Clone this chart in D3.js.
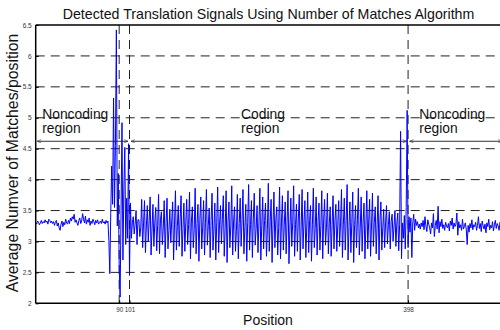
<!DOCTYPE html>
<html>
<head>
<meta charset="utf-8">
<script src="https://cdn.jsdelivr.net/npm/d3@7"></script>
<style>
  body { margin: 0; background: #fff; }
  svg { display: block; font-family: Arial, "Liberation Sans", sans-serif; }
</style>
</head>
<body>
<script>
const w = 500
const h = 330

// values, one per position
const noncodingLeft = [
  3.30,3.28,3.33,3.31,3.27,3.30,3.34,3.29,3.32,3.30,
  3.35,3.31,3.33,3.28,3.36,3.34,3.30,3.33,3.29,3.32,
  3.26,3.31,3.34,3.25,3.30,3.22,3.18,3.28,3.33,3.24,
  3.31,3.27,3.36,3.30,3.28,3.34,3.29,3.38,3.33,3.40,
  3.36,3.44,3.31,3.35,3.30,3.26,3.34,3.38,3.29,3.33,
  3.45,3.36,3.30,3.41,3.28,3.35,3.31,3.38,3.26,3.33,
  3.29,3.36,3.32,3.27,3.34,3.30,3.35,3.28,3.31,3.33,
  3.29,3.36,3.30,3.32,3.28,3.34,3.30,3.33
]
const startSignal = [
  3.02,2.48,3.45,4.22,3.60,5.32,3.55,4.55,6.42,3.25,4.10,2.60,
  2.10,3.50,4.92,2.70,3.85,4.52,2.95,3.70,3.05,4.58,2.45
]
const coding = [
  3.62,3.05,3.30, 3.40,3.12,3.28, 3.50,2.95,3.35, 3.35,3.08,3.22, 3.68,2.90,3.30,
  3.66,2.82,3.25, 3.58,3.00,3.34, 3.72,2.78,3.20, 3.60,2.92,3.31, 3.55,2.85,3.26,
  3.76,2.80,3.35, 3.48,2.95,3.22, 3.66,2.74,3.30, 3.70,2.88,3.18, 3.52,2.98,3.33,
  3.64,2.70,3.28, 3.82,2.86,3.24, 3.58,2.92,3.36, 3.74,2.76,3.21, 3.62,2.84,3.30,
  3.68,2.95,3.27, 3.80,2.72,3.33, 3.56,2.90,3.19, 3.86,2.80,3.29, 3.60,2.68,3.35,
  3.72,2.88,3.23, 3.66,2.78,3.31, 3.84,2.94,3.26, 3.54,2.74,3.34, 3.78,2.86,3.20,
  3.62,2.70,3.30, 3.88,2.82,3.28, 3.58,2.96,3.36, 3.74,2.76,3.22, 3.82,2.66,3.31,
  3.64,2.90,3.25, 3.90,2.78,3.33, 3.56,2.84,3.18, 3.76,2.72,3.29, 3.70,2.92,3.35,
  3.84,2.80,3.24, 3.60,2.68,3.31, 3.92,2.86,3.27, 3.66,2.74,3.36, 3.78,2.94,3.21,
  3.58,2.82,3.30, 3.86,2.70,3.26, 3.72,2.88,3.34, 3.62,2.76,3.19, 3.94,2.84,3.32,
  3.68,2.66,3.28, 3.80,2.90,3.35, 3.56,2.78,3.23, 3.88,2.72,3.30, 3.74,2.86,3.26,
  3.64,2.80,3.33, 3.82,2.64,3.20, 3.70,2.92,3.31, 3.90,2.76,3.27, 3.60,2.84,3.36,
  3.76,2.70,3.22, 3.84,2.88,3.30, 3.66,2.74,3.25, 3.80,2.82,3.34, 3.58,2.68,3.28,
  3.86,2.90,3.21, 3.72,2.78,3.32, 3.62,2.86,3.26, 3.82,2.72,3.35, 3.68,2.94,3.23,
  3.78,2.80,3.30, 3.56,2.76,3.27, 3.74,2.88,3.33, 3.60,2.84,3.25, 3.66,2.92,3.30,
  3.84,2.74,3.28, 3.70,2.86,3.34, 3.92,2.70,3.24, 3.64,2.82,3.31, 3.80,2.66,3.27,
  3.58,2.90,3.35, 3.86,2.78,3.22, 3.72,2.84,3.30, 3.62,2.72,3.26, 3.82,2.88,3.33,
  3.68,2.76,3.25, 3.78,2.92,3.31, 3.56,2.80,3.28, 3.74,2.70,3.34, 3.64,2.86,3.22,
  3.52,2.90,3.30, 3.58,2.96,3.27, 3.48,2.88,3.33, 3.44,3.00,3.25, 3.50,2.92,3.30,
  3.46,2.85,3.28
]
const endSignal = [4.78,2.72,3.30,3.05,3.42,2.88,3.55,5.12,2.90,3.40]
const noncodingRight = [
  3.15,3.38,2.74,3.30,3.44,3.18,3.36,3.26,3.32,3.22,
  3.28,3.20,3.30,3.24,3.34,3.19,3.40,3.25,3.16,3.35,
  3.28,3.22,3.12,3.30,3.22,3.45,3.08,3.26,3.34,3.20,
  3.57,3.14,3.32,3.24,3.36,3.21,3.27,3.18,3.31,3.25,
  3.22,3.29,3.17,3.33,3.26,3.38,3.20,3.30,3.24,3.28,
  3.46,3.10,3.32,3.22,3.27,3.18,3.36,3.20,3.24,3.30,
  3.20,2.95,3.26,3.15,3.29,3.22,3.35,3.19,3.27,3.24,
  3.31,3.18,3.26,3.40,3.21,3.29,3.16,3.33,3.25,3.20,
  3.28,3.14,3.30,3.24,3.36,3.19,3.26,3.22,3.32,3.17,
  3.27,3.34,3.21,3.29,3.25,3.18,3.31,3.24,3.38,3.22,
  3.28
]

const markPositions = [90, 101, 398]
const yTicks = [2, 2.5, 3, 3.5, 4, 4.5, 5, 5.5, 6, 6.5]
const regionLevel = 4.62
const regionSpans = [[1, 101], [101, 398], [398, 500]]
const regionLabels = [
  { pos: 8, lines: ['Noncoding', 'region'] },
  { pos: 220, lines: ['Coding', 'region'] },
  { pos: 410, lines: ['Noncoding', 'region'] }
]

const values = [].concat(noncodingLeft, startSignal, coding, endSignal, noncodingRight)
const series = values.map(function (v, i) { return { pos: i + 1, val: v } })

const plotLeft = 35.7
const plotTop = 25
const plotBottom = 303.3

const xScale = d3.scaleLinear().domain([1, 500]).range([plotLeft, plotLeft + 499 * 0.938])
const yScale = d3.scaleLinear().domain([2, 6.5]).range([plotBottom, plotTop])

const svg = d3.select('body').append('svg')
  .attr('width', w)
  .attr('height', h)

svg.append('rect').attr('width', w).attr('height', h).attr('fill', '#fff')

// dashed grid
svg.append('g').selectAll('line')
  .data(yTicks.slice(1, -1))
  .enter().append('line')
  .attr('x1', plotLeft).attr('x2', w)
  .attr('y1', function (d) { return yScale(d) })
  .attr('y2', function (d) { return yScale(d) })
  .attr('stroke', '#222')
  .attr('stroke-width', 1)
  .attr('stroke-dasharray', '9,6')

svg.append('g').selectAll('line')
  .data(markPositions)
  .enter().append('line')
  .attr('x1', function (d) { return xScale(d) })
  .attr('x2', function (d) { return xScale(d) })
  .attr('y1', plotTop).attr('y2', plotBottom)
  .attr('stroke', '#222')
  .attr('stroke-width', 1)
  .attr('stroke-dasharray', '9,6')

// region arrows
const defs = svg.append('defs')
defs.append('marker')
  .attr('id', 'arr')
  .attr('viewBox', '0 0 10 10')
  .attr('refX', 10).attr('refY', 5)
  .attr('markerWidth', 5).attr('markerHeight', 4)
  .attr('orient', 'auto-start-reverse')
  .append('path').attr('d', 'M0,1 L10,5 L0,9').attr('fill', 'none').attr('stroke', '#333').attr('stroke-width', 1.5)

svg.append('g').selectAll('line')
  .data(regionSpans)
  .enter().append('line')
  .attr('x1', function (d) { return xScale(d[0]) + 1.5 })
  .attr('x2', function (d) { return xScale(d[1]) - 1.5 })
  .attr('y1', yScale(regionLevel)).attr('y2', yScale(regionLevel))
  .attr('stroke', '#333')
  .attr('stroke-width', 1)
  .attr('marker-start', 'url(#arr)')
  .attr('marker-end', 'url(#arr)')

// signal
const lineFun = d3.line()
  .x(function (d) { return xScale(d.pos) })
  .y(function (d) { return yScale(d.val) })

svg.append('path')
  .attr('d', lineFun(series))
  .attr('fill', 'none')
  .attr('stroke', '#0000ff')
  .attr('stroke-width', 1)
  .attr('stroke-linejoin', 'miter')

// region labels
regionLabels.forEach(function (r) {
  r.lines.forEach(function (t, i) {
    svg.append('text')
      .attr('x', xScale(r.pos))
      .attr('y', 118.5 + i * 14)
      .attr('font-size', 13.8)
      .attr('fill', '#111')
      .text(t)
  })
})

// axes frame
svg.append('line').attr('x1', plotLeft).attr('x2', w).attr('y1', plotTop).attr('y2', plotTop)
  .attr('stroke', '#000').attr('stroke-width', 1.5)
svg.append('line').attr('x1', plotLeft).attr('x2', w).attr('y1', plotBottom).attr('y2', plotBottom)
  .attr('stroke', '#000').attr('stroke-width', 1.5)
svg.append('line').attr('x1', plotLeft).attr('x2', plotLeft).attr('y1', plotTop).attr('y2', plotBottom)
  .attr('stroke', '#000').attr('stroke-width', 1.5)

const yAxis = svg.append('g')
  .attr('transform', `translate(${plotLeft},0)`)
  .call(d3.axisLeft(yScale).tickValues(yTicks).tickSize(-3).tickPadding(4).tickFormat(d3.format('')))
yAxis.select('.domain').remove()
yAxis.selectAll('text').attr('font-size', 6.5).attr('fill', '#333').attr('font-family', 'Arial, "Liberation Sans", sans-serif')

const xAxis = svg.append('g')
  .attr('transform', `translate(0,${plotBottom})`)
  .call(d3.axisBottom(xScale).tickValues(markPositions).tickSize(-3).tickPadding(4))
xAxis.select('.domain').remove()
xAxis.selectAll('text').attr('font-size', 6.3).attr('fill', '#333').attr('font-family', 'Arial, "Liberation Sans", sans-serif')

// titles
svg.append('text')
  .attr('x', 268.5).attr('y', 18.5)
  .attr('text-anchor', 'middle')
  .attr('font-size', 14.2)
  .attr('fill', '#111')
  .text('Detected Translation Signals Using Number of Matches Algorithm')

svg.append('text')
  .attr('x', 268).attr('y', 325)
  .attr('text-anchor', 'middle')
  .attr('font-size', 14)
  .attr('fill', '#111')
  .text('Position')

svg.append('text')
  .attr('transform', 'translate(18,163) rotate(-90)')
  .attr('text-anchor', 'middle')
  .attr('font-size', 15.8)
  .attr('fill', '#111')
  .text('Average Numver of Matches/position')
</script>
</body>
</html>
